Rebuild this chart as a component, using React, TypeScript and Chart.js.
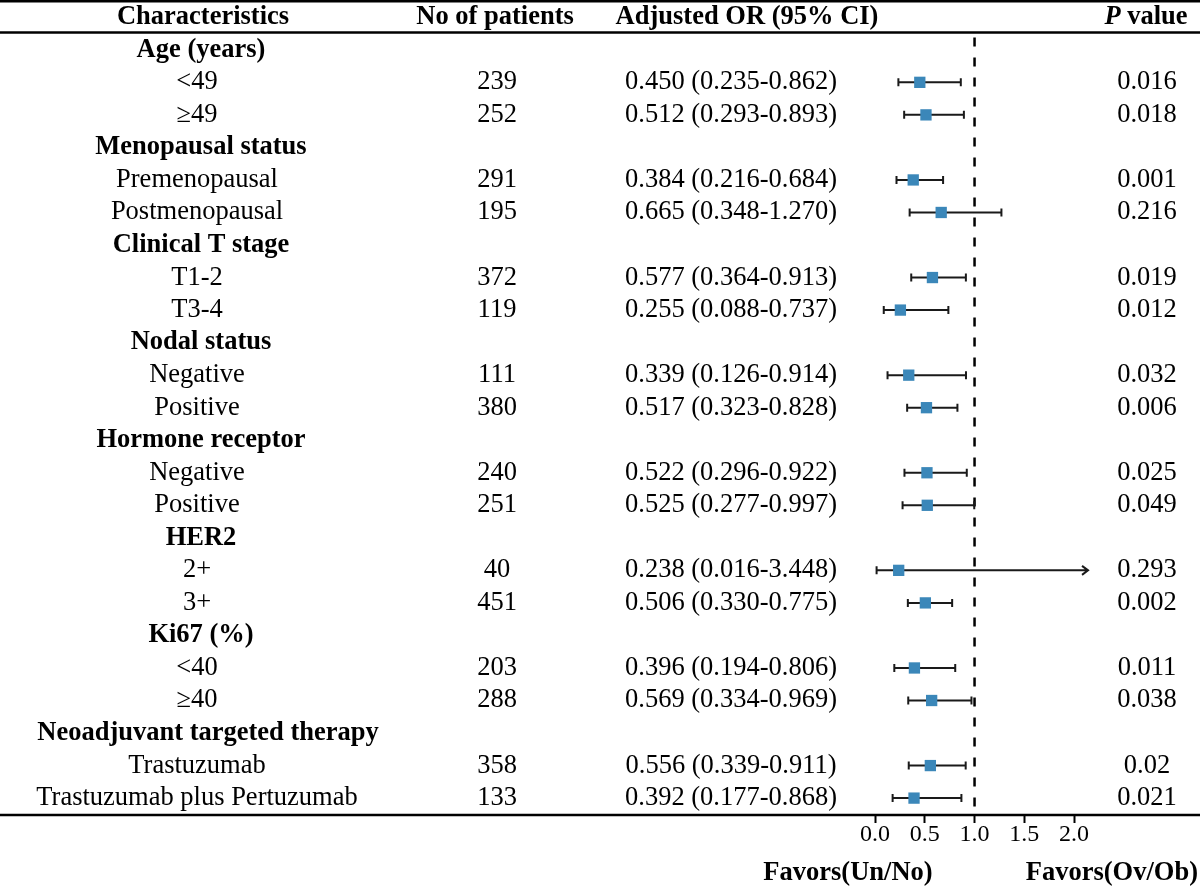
import { useEffect, useRef } from "react";
import { Chart, registerables } from "chart.js";

Chart.register(...registerables);

// ---- data ----
const CHARACTERISTICS = [
  "Age (years)", "<49", "≥49",
  "Menopausal status", "Premenopausal", "Postmenopausal",
  "Clinical T stage", "T1-2", "T3-4",
  "Nodal status", "Negative", "Positive",
  "Hormone receptor", "Negative", "Positive",
  "HER2", "2+", "3+",
  "Ki67 (%)", "<40", "≥40",
  "Neoadjuvant targeted therapy", "Trastuzumab", "Trastuzumab plus Pertuzumab",
];
const IS_GROUP = [
  true, false, false, true, false, false, true, false, false, true, false, false,
  true, false, false, true, false, false, true, false, false, true, false, false,
];
const PATIENTS: (number | null)[] = [
  null, 239, 252, null, 291, 195, null, 372, 119, null, 111, 380,
  null, 240, 251, null, 40, 451, null, 203, 288, null, 358, 133,
];
const OR: (number | null)[] = [
  null, 0.450, 0.512, null, 0.384, 0.665, null, 0.577, 0.255, null, 0.339, 0.517,
  null, 0.522, 0.525, null, 0.238, 0.506, null, 0.396, 0.569, null, 0.556, 0.392,
];
const LOWER: (number | null)[] = [
  null, 0.235, 0.293, null, 0.216, 0.348, null, 0.364, 0.088, null, 0.126, 0.323,
  null, 0.296, 0.277, null, 0.016, 0.330, null, 0.194, 0.334, null, 0.339, 0.177,
];
const UPPER: (number | null)[] = [
  null, 0.862, 0.893, null, 0.684, 1.270, null, 0.913, 0.737, null, 0.914, 0.828,
  null, 0.922, 0.997, null, 3.448, 0.775, null, 0.806, 0.969, null, 0.911, 0.868,
];
const P_VALUES = [
  "", "0.016", "0.018", "", "0.001", "0.216", "", "0.019", "0.012", "", "0.032", "0.006",
  "", "0.025", "0.049", "", "0.293", "0.002", "", "0.011", "0.038", "", "0.02", "0.021",
];
const X_TICKS = [0, 0.5, 1.0, 1.5, 2.0];
const REF_LINE = 1.0;
const ARROW_LIMIT = 2.14;

const FONT = '"Liberation Serif", "Times New Roman", serif';
const MARKER = "#3b87b9";

const forestPlugin = {
  id: "forest",
  beforeDatasetsDraw(chart: any) {
    const { ctx, scales } = chart;
    const xs = scales.x;
    const ys = scales.y;
    const W = chart.width;
    ctx.save();
    // rules
    ctx.strokeStyle = "#000";
    ctx.lineWidth = 2.5;
    [-1.49, -0.53, 23.52].forEach((v) => {
      const y = ys.getPixelForValue(v);
      ctx.beginPath();
      ctx.moveTo(0, y);
      ctx.lineTo(W, y);
      ctx.stroke();
    });
    // reference dashed line
    const xr = xs.getPixelForValue(REF_LINE);
    ctx.setLineDash([9, 11]);
    ctx.lineWidth = 2.5;
    ctx.beginPath();
    ctx.moveTo(xr, ys.getPixelForValue(-0.38));
    ctx.lineTo(xr, ys.getPixelForValue(23.52));
    ctx.stroke();
    ctx.setLineDash([]);
    // error bars
    ctx.strokeStyle = "#1a1a1a";
    ctx.lineWidth = 2;
    for (let i = 0; i < OR.length; i++) {
      const lo = LOWER[i];
      const hi = UPPER[i];
      if (lo == null || hi == null) continue;
      const y = ys.getPixelForValue(i);
      const x1 = xs.getPixelForValue(lo);
      const clipped = hi > ARROW_LIMIT;
      const x2 = xs.getPixelForValue(clipped ? ARROW_LIMIT : hi);
      ctx.beginPath();
      ctx.moveTo(x1, y);
      ctx.lineTo(x2, y);
      ctx.moveTo(x1, y - 4);
      ctx.lineTo(x1, y + 4);
      if (clipped) {
        ctx.moveTo(x2 - 6, y - 4.5);
        ctx.lineTo(x2, y);
        ctx.lineTo(x2 - 6, y + 4.5);
      } else {
        ctx.moveTo(x2, y - 4);
        ctx.lineTo(x2, y + 4);
      }
      ctx.stroke();
    }
    ctx.restore();
  },
  afterDraw(chart: any) {
    const { ctx, scales } = chart;
    const ys = scales.y;
    ctx.save();
    ctx.fillStyle = "#000";
    ctx.textBaseline = "middle";
    ctx.textAlign = "center";
    const hy = ys.getPixelForValue(-1);
    ctx.font = `bold 26.5px ${FONT}`;
    ctx.fillText("Characteristics", 203, hy);
    ctx.fillText("No of patients", 495, hy);
    ctx.fillText("Adjusted OR (95% CI)", 747, hy);
    // "P value" with italic P
    ctx.textAlign = "left";
    ctx.font = `italic bold 26.5px ${FONT}`;
    const pW = ctx.measureText("P").width;
    ctx.font = `bold 26.5px ${FONT}`;
    const vW = ctx.measureText(" value").width;
    const startX = 1146 - (pW + vW) / 2;
    ctx.font = `italic bold 26.5px ${FONT}`;
    ctx.fillText("P", startX, hy);
    ctx.font = `bold 26.5px ${FONT}`;
    ctx.fillText(" value", startX + pW, hy);
    ctx.textAlign = "center";

    for (let i = 0; i < CHARACTERISTICS.length; i++) {
      const y = ys.getPixelForValue(i);
      if (IS_GROUP[i]) {
        ctx.font = `bold 26.5px ${FONT}`;
        const wide = CHARACTERISTICS[i].length > 20;
        ctx.fillText(CHARACTERISTICS[i], wide ? 208 : 201, y);
        continue;
      }
      ctx.font = `26.5px ${FONT}`;
      ctx.fillText(CHARACTERISTICS[i], 197, y);
      if (PATIENTS[i] != null) ctx.fillText(String(PATIENTS[i]), 497, y);
      if (OR[i] != null) {
        const txt = `${OR[i]!.toFixed(3)} (${LOWER[i]!.toFixed(3)}-${UPPER[i]!.toFixed(3)})`;
        ctx.fillText(txt, 731, y);
      }
      if (P_VALUES[i]) ctx.fillText(P_VALUES[i], 1147, y);
    }
    // favors labels
    ctx.font = `bold 26.5px ${FONT}`;
    ctx.fillText("Favors(Un/No)", 848, 873);
    ctx.textAlign = "right";
    ctx.fillText("Favors(Ov/Ob)", 1198, 873);
    ctx.restore();
  },
};

export default function App() {
  const ref = useRef<HTMLCanvasElement>(null);
  useEffect(() => {
    document.body.style.margin = "0";
    const points = OR.map((v, i) => (v == null ? null : { x: v, y: i })).filter(Boolean) as {
      x: number;
      y: number;
    }[];
    const chart = new Chart(ref.current!, {
      type: "scatter",
      data: {
        datasets: [
          {
            data: points,
            pointStyle: "rect",
            pointRadius: 8,
            pointHoverRadius: 8,
            backgroundColor: MARKER,
            borderColor: MARKER,
            borderWidth: 0,
          },
        ],
      },
      options: {
        animation: false,
        responsive: true,
        maintainAspectRatio: false,
        layout: { autoPadding: false, padding: { left: 875, right: 106, top: 1, bottom: 42 } },
        plugins: { legend: { display: false }, tooltip: { enabled: false } },
        scales: {
          x: {
            type: "linear",
            min: 0,
            max: 2.2,
            position: "bottom",
            border: { display: false },
            grid: {
              drawOnChartArea: false,
              drawTicks: true,
              tickLength: 7,
              tickWidth: 2,
              color: "#000",
            },
            afterBuildTicks: (scale: any) => {
              scale.ticks = X_TICKS.map((v) => ({ value: v }));
            },
            ticks: {
              color: "#000",
              padding: 0,
              autoSkip: false,
              maxRotation: 0,
              font: { family: FONT, size: 24, lineHeight: 1 },
              callback: (v: any) => Number(v).toFixed(1),
            },
          },
          y: {
            type: "linear",
            min: -1.5,
            max: 23.55,
            reverse: true,
            display: false,
          },
        },
      },
      plugins: [forestPlugin],
    });
    return () => chart.destroy();
  }, []);
  return (
    <div style={{ width: 1200, height: 889, position: "relative" }}>
      <canvas ref={ref} />
    </div>
  );
}
